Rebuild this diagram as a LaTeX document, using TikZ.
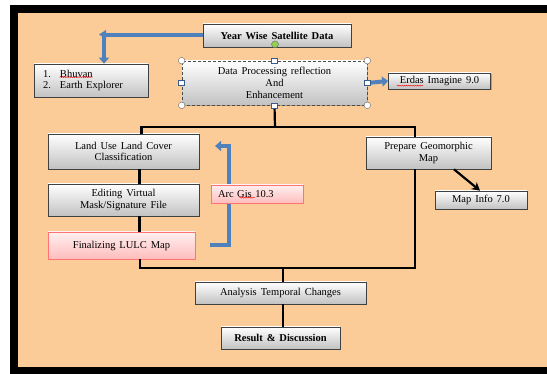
\documentclass[tikz,border=0pt]{standalone}
\usepackage{fontspec}
\setmainfont{Liberation Serif}[WordSpace=1.5]
\usetikzlibrary{shadows,arrows.meta,calc,decorations.pathmorphing}
\definecolor{peach}{RGB}{252,204,152}
\definecolor{ablue}{RGB}{79,129,189}
\definecolor{adark}{RGB}{56,93,138}
\definecolor{hgreen}{RGB}{146,208,80}
\tikzset{
  box/.style={draw=black!75, line width=0.7pt, top color=white, bottom color=black!24,
    drop shadow={shadow xshift=1.2pt, shadow yshift=-1.4pt, opacity=0.6},
    align=center, inner sep=1pt, font=\fontsize{10.5}{11.8}\selectfont},
  pinkbox/.style={box, draw=red!55, top color=red!6, bottom color=red!26},
  conn/.style={line width=2.2pt, black, line join=miter},
  barrow/.style={line width=4pt, ablue, -{Triangle[width=10pt,length=6pt]}},
  handlec/.style={draw=black!60, fill=white, line width=0.4pt},
  spell/.style={red, line width=0.4pt, decorate, decoration={snake,amplitude=0.5pt,segment length=2.2pt}},
}
\begin{document}
\begin{tikzpicture}[x=1pt,y=-1pt]
\useasboundingbox (0,0) rectangle (547,374);
\fill[white] (0,0) rectangle (547,374);
\fill[black] (10,5) rectangle (547,374);
\fill[peach] (18,13) rectangle (547,367);

\coordinate (j1) at (275,127);
\coordinate (j2) at (283,268);
\coordinate (bs) at (210,245);
\coordinate (be) at (215,146);

% nodes
\node[box, font=\fontsize{10.5}{12}\selectfont\bfseries, minimum width=148pt, minimum height=23pt] (year) at (277,35.5) {Year Wise Satellite Data};
\node[box, draw=black!70, dashed, dash pattern=on 3pt off 2pt, minimum width=185pt, minimum height=44pt] (dp) at (274.5,83) {Data Processing reflection\\And\\Enhancement};
\node[box, minimum width=114pt, minimum height=33pt, text width=96pt, align=left] (bhu) at (91,80.5) {\makebox[17pt][l]{1.}Bhuvan\\\makebox[17pt][l]{2.}Earth Explorer};
\node[box, minimum width=102pt, minimum height=16pt] (erd) at (439.5,81) {Erdas Imagine 9.0};
\node[box, minimum width=151pt, minimum height=35pt] (lulc) at (123.5,151.5) {Land Use Land Cover\\Classification};
\node[box, minimum width=125pt, minimum height=32pt] (geo) at (428.5,153) {Prepare Geomorphic\\Map};
\node[box, minimum width=151pt, minimum height=32pt] (edit) at (123.5,200) {Editing Virtual\\Mask/Signature File};
\node[pinkbox, minimum width=147pt, minimum height=27pt] (final) at (121.5,245.5) {Finalizing LULC Map};
\node[box, minimum width=92pt, minimum height=18pt] (map) at (481,200) {Map Info 7.0};
\node[box, minimum width=171pt, minimum height=22pt] (ana) at (280.5,293) {Analysis Temporal Changes};
\node[box, font=\fontsize{10.5}{12}\selectfont\bfseries, minimum width=119pt, minimum height=22pt] (res) at (280.5,338) {Result \& Discussion};

% black connectors
\draw[conn] (dp.south) -- (j1);
\draw[conn] ([xshift=18pt]lulc.north) |- (j1) -| ([xshift=-13.5pt]geo.north);
\draw[conn] ([xshift=16pt]lulc.south) -- ([xshift=16pt]edit.north);
\draw[conn] ([xshift=16pt]edit.south) -- ([xshift=18pt]final.north);
\draw[conn] ([xshift=18.5pt]final.south) |- (j2) -| ([xshift=-13.5pt]geo.south);
\draw[conn] (j2) -- ([xshift=2.5pt]ana.north);
\draw[conn] ([xshift=2.5pt]ana.south) -- ([xshift=2.5pt]res.north);
\draw[conn, -{Stealth[length=8pt,width=9pt]}] ([xshift=25.5pt]geo.south) -- ([xshift=-1pt]map.north);

% blue arrows
\draw[barrow] (year.west) -| ([xshift=13pt]bhu.north);
\fill[ablue] (99,34.5) -- (106,30) -- (106,39) -- cycle;
\draw[barrow] (dp.east) -- (erd.west);
\draw[barrow] (bs) -- ++(19,0) |- (be);

\node[pinkbox, minimum width=92pt, minimum height=18pt, text width=78pt, align=left] (arc) at (257,194) {Arc Gis 10.3};

% spell-check marks
\draw[spell] ([xshift=26pt,yshift=-13.5pt]bhu.north west) -- ++(33pt,0pt);
\draw[spell] ([xshift=9pt,yshift=-13pt]erd.north west) -- ++(26pt,0pt);
\draw[spell] ([xshift=29pt,yshift=-13pt]arc.north west) -- ++(15pt,0pt);

% selection handles on the Data Processing box
\foreach \p in {(dp.north west),(dp.north east),(dp.south west),(dp.south east)}
  \draw[handlec] \p circle (3.3pt);
\foreach \p in {(dp.north),(dp.south),(dp.west),(dp.east)}
  \draw[handlec, draw=adark] \p ++(-3pt,-2.5pt) rectangle ++(6pt,5pt);
\draw[fill=hgreen, draw=black!60, line width=0.4pt] (year.south) ++(-2pt,3pt) circle (3.5pt);
\end{tikzpicture}
\end{document}
